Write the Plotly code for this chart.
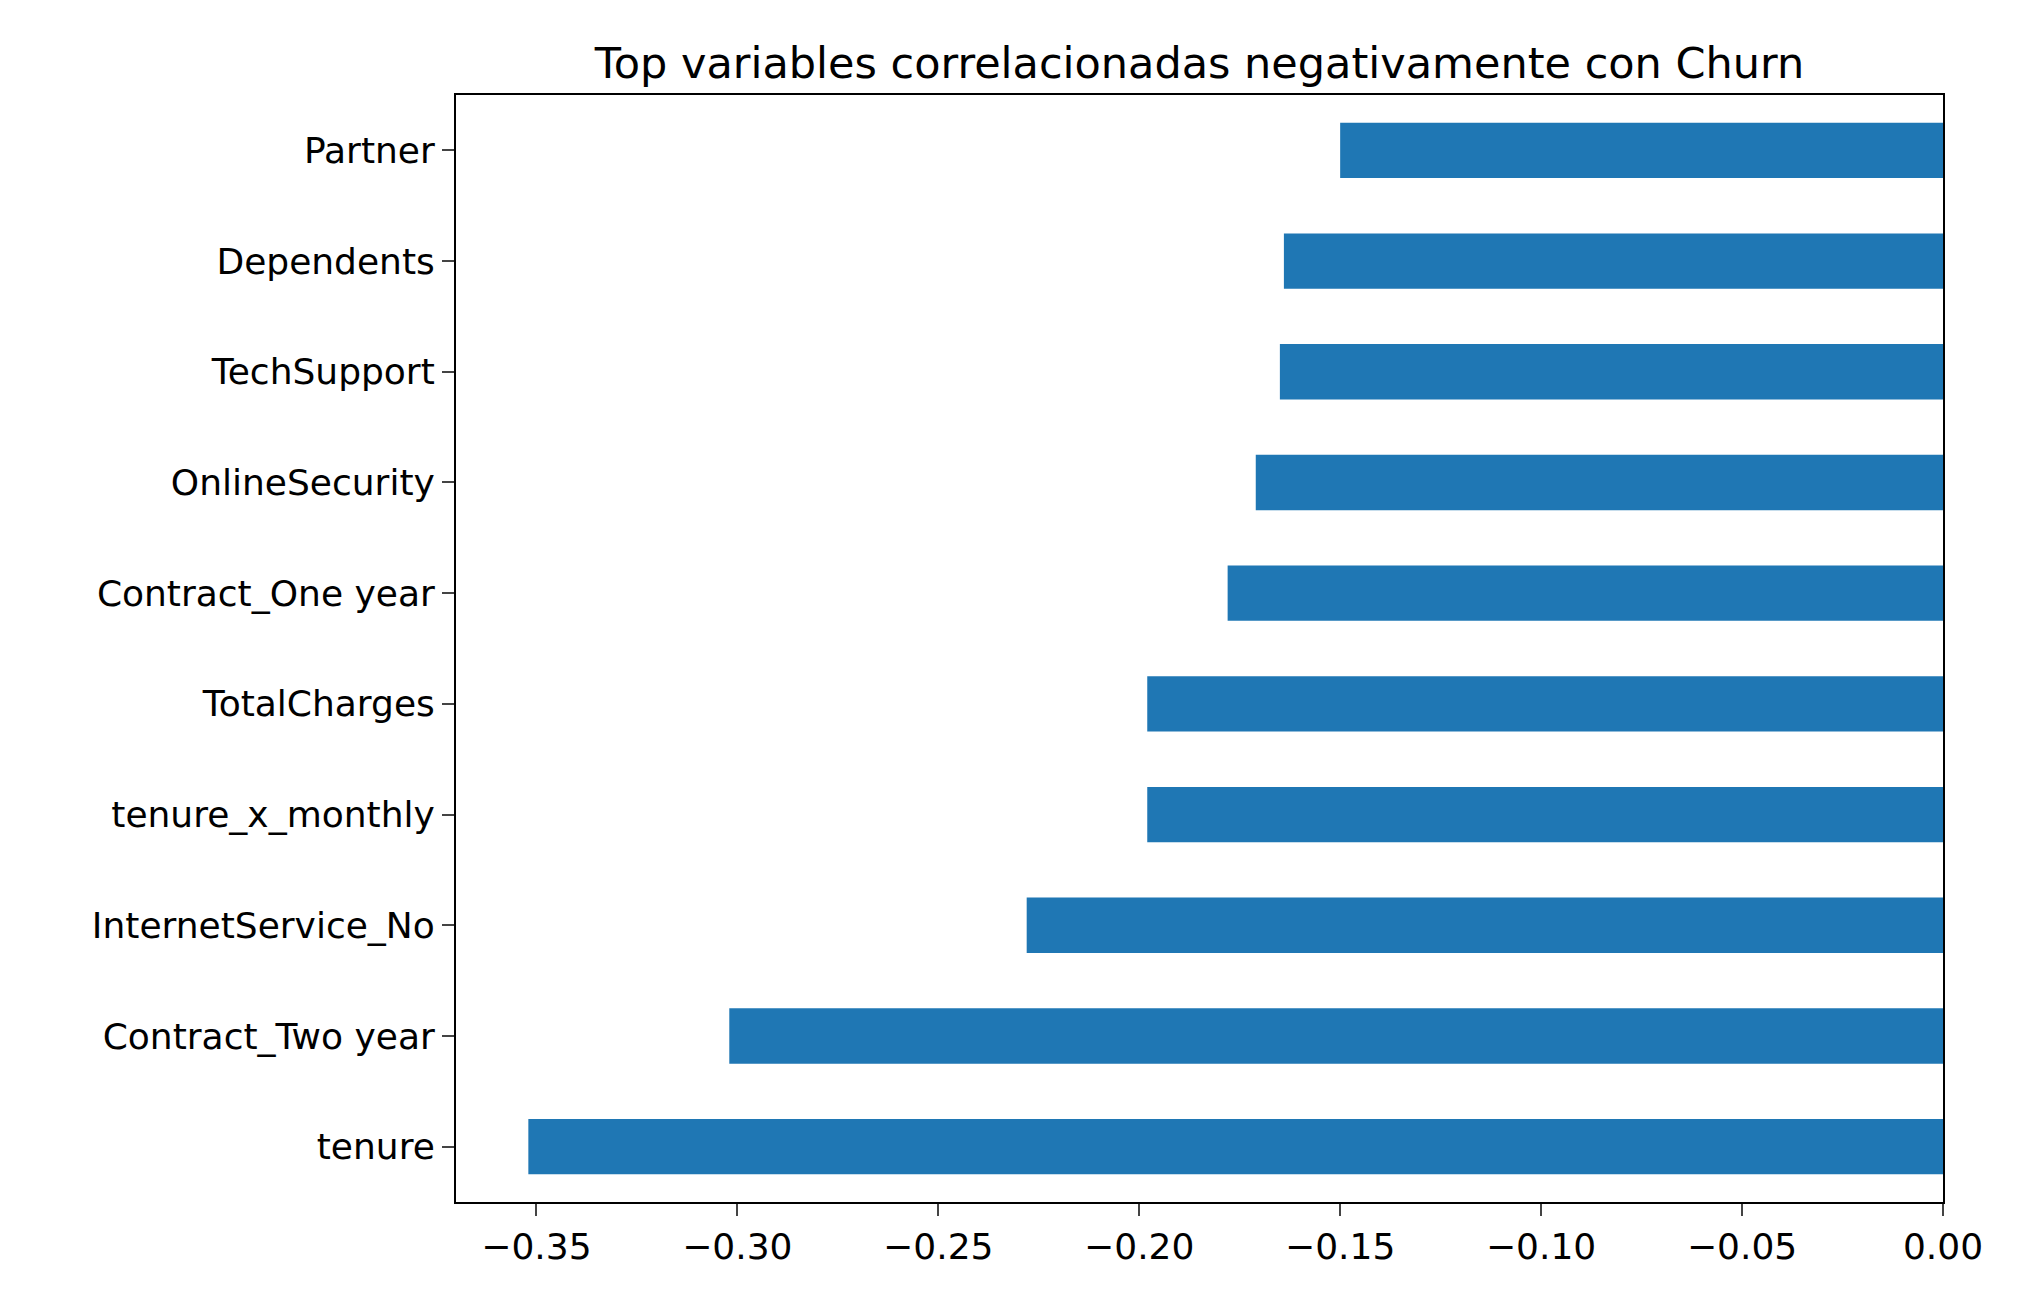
import plotly.graph_objects as go

variables = ["tenure", "Contract_Two year", "InternetService_No", "tenure_x_monthly",
             "TotalCharges", "Contract_One year", "OnlineSecurity", "TechSupport",
             "Dependents", "Partner"]
corr = [-0.352, -0.302, -0.228, -0.198, -0.198, -0.178, -0.171, -0.165, -0.164, -0.150]
tick_vals = [-0.35, -0.30, -0.25, -0.20, -0.15, -0.10, -0.05, 0.00]
tick_text = ["\u22120.35", "\u22120.30", "\u22120.25", "\u22120.20", "\u22120.15", "\u22120.10", "\u22120.05", "0.00"]

fig = go.Figure(go.Bar(x=corr, y=variables, orientation="h", width=0.5,
                       marker=dict(color="#1f77b4", line=dict(width=0))))

fig.update_layout(
    width=2020, height=1302,
    margin=dict(l=448, r=85, t=87, b=108),
    plot_bgcolor="white", paper_bgcolor="white",
    font=dict(family="DejaVu Sans", size=36, color="black"),
    title=dict(text="Top variables correlacionadas negativamente con Churn",
               x=0.5, xref="paper", xanchor="center", y=0.958, yanchor="middle",
               font=dict(size=43)),
    showlegend=False,
)
fig.update_xaxes(range=[-0.370, 0], tickvals=tick_vals, ticktext=tick_text,
                 ticks="outside", ticklen=12, tickwidth=2, showgrid=False, zeroline=False,
                 showline=True, linecolor="black", linewidth=2, mirror=True)
fig.update_yaxes(range=[-0.5, 9.5], ticks="outside", ticklen=12, tickwidth=2,
                 showgrid=False, showline=True, linecolor="black", linewidth=2, mirror=True)

fig.write_html("out.html")
